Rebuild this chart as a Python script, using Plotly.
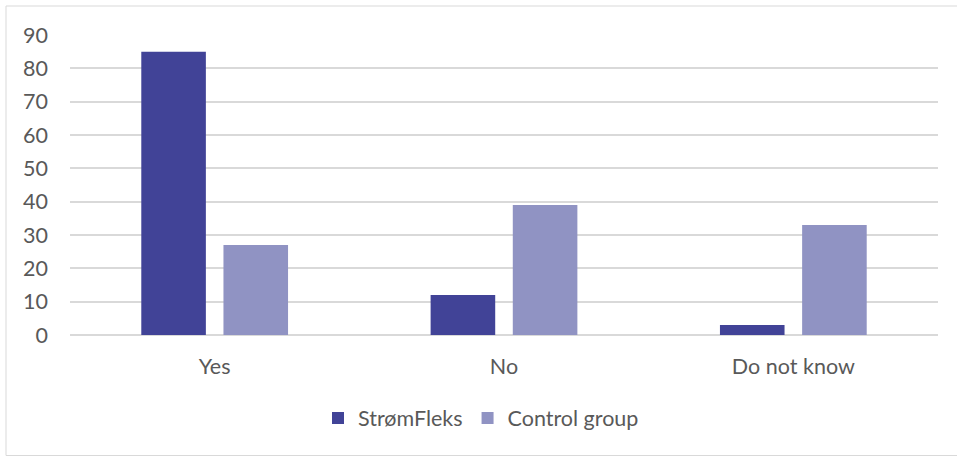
import plotly.graph_objects as go

categories = ["Yes", "No", "Do not know"]
stromfleks = [85, 12, 3]
control = [27, 39, 33]
y_ticks = [0, 10, 20, 30, 40, 50, 60, 70, 80, 90]

FONT = "Lato, 'Open Sans', sans-serif"
TXT = "#595959"
FS = 21.5

fig = go.Figure()
fig.add_trace(go.Bar(name="StrømFleks", x=categories, y=stromfleks,
                     marker=dict(color="#414397", line=dict(width=0))))
fig.add_trace(go.Bar(name="Control group", x=categories, y=control,
                     marker=dict(color="#9093C3", line=dict(width=0))))

W, H = 957, 457
L, R, T, B = 70, 19, 35, 122
pw, ph = W - L - R, H - T - B

fig.update_layout(
    width=W, height=H,
    margin=dict(l=L, r=R, t=T, b=B, autoexpand=False),
    paper_bgcolor="white", plot_bgcolor="white",
    barmode="group", bargap=0.432, bargroupgap=0.214,
    font=dict(family=FONT, size=FS, color=TXT),
    showlegend=True,
    legend=dict(orientation="h", x=(318 - L) / pw, xanchor="left",
                y=(H - B - 418) / ph, yanchor="middle",
                font=dict(size=FS, color=TXT), itemwidth=30,
                traceorder="normal"),
    xaxis=dict(showgrid=False, showline=False, zeroline=False,
               ticks="", ticklabelstandoff=16,
               tickfont=dict(size=FS, color=TXT)),
    yaxis=dict(range=[0, 90], tickvals=y_ticks, showgrid=True,
               gridcolor="#D9D9D9", gridwidth=1.5, zeroline=True,
               zerolinecolor="#D9D9D9", zerolinewidth=1.5,
               showline=False, ticks="", ticklabelstandoff=21,
               tickfont=dict(size=FS, color=TXT)),
    shapes=[dict(type="rect", xref="paper", yref="paper",
                 x0=(6 - L) / pw, x1=(962 - L) / pw,
                 y0=(H - B - 455.5) / ph, y1=(H - B - 6) / ph,
                 line=dict(color="#D9D9D9", width=1), layer="below")],
)

fig.write_html("out.html")
